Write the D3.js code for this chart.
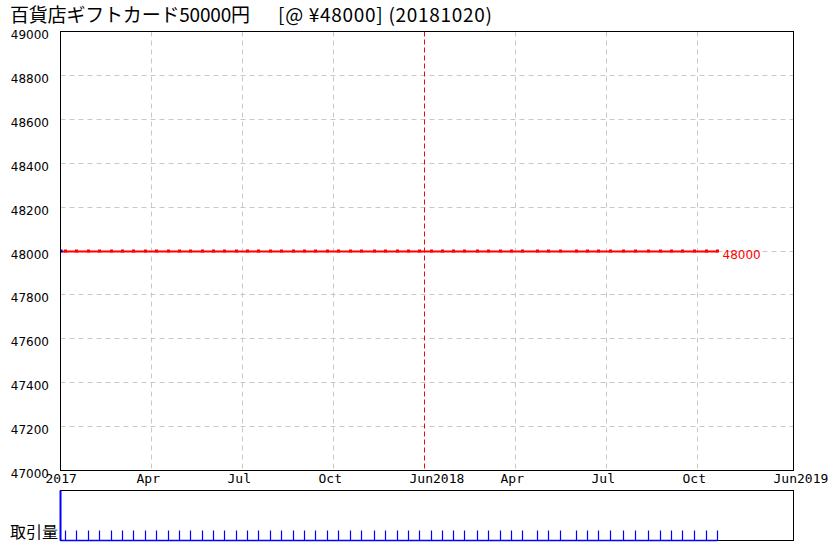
<!DOCTYPE html>
<html><head><meta charset="utf-8">
<script src="https://cdn.jsdelivr.net/npm/d3@7/dist/d3.min.js"></script>
<style>body{margin:0;background:#fff}svg{display:block}</style>
</head><body>
<svg id="c" width="829" height="551"></svg>
<script>
const titleMain = "百貨店ギフトカード50000円";
const titleSub = "[@ ¥48000] (20181020)";
const dates = ["2017-01-01","2017-01-06","2017-01-17","2017-01-29","2017-02-09","2017-02-21","2017-03-04","2017-03-15","2017-03-27","2017-04-07","2017-04-19","2017-04-30","2017-05-11","2017-05-23","2017-06-03","2017-06-14","2017-06-26","2017-07-07","2017-07-18","2017-07-30","2017-08-10","2017-08-22","2017-09-02","2017-09-13","2017-09-25","2017-10-06","2017-10-18","2017-10-29","2017-11-11","2017-11-22","2017-12-04","2017-12-15","2017-12-26","2018-01-07","2018-01-18","2018-01-29","2018-02-09","2018-02-22","2018-03-05","2018-03-17","2018-03-28","2018-04-08","2018-04-23","2018-05-04","2018-05-16","2018-06-01","2018-06-12","2018-06-23","2018-07-05","2018-07-18","2018-07-30","2018-08-12","2018-08-24","2018-09-04","2018-09-15","2018-09-27","2018-10-09","2018-10-20"];
const prices = dates.map(() => 48000);
const volumes = [5].concat(dates.slice(1).map(() => 1));
const xTickDates = ["2017-01-01","2017-04-02","2017-07-02","2017-10-01","2017-12-31","2018-04-01","2018-07-01","2018-09-30","2018-12-30"];
const xTickLabels = ["2017","Apr","Jul","Oct","Jun2018","Apr","Jul","Oct","Jun2019"];
const yearMarkDate = "2017-12-31";
const yTicks = [47000,47200,47400,47600,47800,48000,48200,48400,48600,48800,49000];
const yDomain = [47000, 49000];
const volLabel = "取引量";

const svg = d3.select("#c");
const parse = d3.utcParse("%Y-%m-%d");
const t0 = parse("2017-01-01");
const DAY = 86400000;
const L = 60.5, R = 793.5, T = 31.5, B = 470.5;
const VT = 490.5, VB = 540.5;
const x = d3.scaleUtc().domain([t0, new Date(+t0 + 733*DAY)]).range([L, R]);
const y = d3.scaleLinear().domain(yDomain).range([B, T]);
const yv = d3.scaleLinear().domain([0, d3.max(volumes)]).range([VB, VT]);
const px = v => Math.round(v - 0.5) + 0.5;

// title
const tt = svg.append("text").attr("y", 22).attr("font-family", "'Noto Sans CJK JP', sans-serif").attr("font-size", 19).attr("fill", "#000");
tt.append("tspan").attr("x", 10).attr("textLength", 240).text(titleMain);
tt.append("tspan").attr("x", 278).attr("textLength", 214).text(titleSub);

// gridlines horizontal
svg.append("g").selectAll("line").data(yTicks.slice(1, -1)).join("line")
  .attr("x1", L).attr("x2", R).attr("y1", d => px(y(d))).attr("y2", d => px(y(d)))
  .attr("stroke", "#c8c8c8").attr("stroke-dasharray", "5,4");
// gridlines vertical
const xt = xTickDates.map(parse);
const ym = parse(yearMarkDate);
svg.append("g").selectAll("line").data(xt.slice(1, -1).filter(d => +d !== +ym)).join("line")
  .attr("x1", d => px(x(d))).attr("x2", d => px(x(d)))
  .attr("y1", T).attr("y2", B)
  .attr("stroke", "#c8c8c8").attr("stroke-dasharray", "5,4");
svg.append("line")
  .attr("x1", px(x(ym))).attr("x2", px(x(ym))).attr("y1", T).attr("y2", B)
  .style("stroke", "#ff0000").style("stroke-dasharray", "5,3");

// y labels
svg.append("g").selectAll("text").data(yTicks).join("text")
  .attr("x", 49).attr("y", d => y(d) + 7.5).attr("text-anchor", "end")
  .attr("font-family", "'DejaVu Sans', sans-serif").attr("font-size", 12).attr("fill", "#000")
  .text(d => d);

// x labels
svg.append("g").selectAll("text").data(xt).join("text")
  .attr("x", d => x(d) - 15).attr("y", 483)
  .attr("font-family", "'DejaVu Sans Mono', monospace").attr("font-size", 13).attr("fill", "#000")
  .text((d, i) => xTickLabels[i]);

// price line
const pts = dates.map((d, i) => ({ d: parse(d), p: prices[i], v: volumes[i] }));
svg.append("path").datum(pts)
  .attr("d", d3.line().x(d => x(d.d)).y(d => px(y(d.p))))
  .attr("fill", "none").attr("stroke", "#ff0000").attr("stroke-width", 2);
svg.append("g").selectAll("rect").data(pts.slice(1)).join("rect")
  .attr("x", d => x(d.d) - 1.5).attr("y", d => Math.round(y(d.p)) - 1.5)
  .attr("width", 3).attr("height", 3).attr("fill", "#ff0000");
svg.append("rect").attr("x", x(pts[0].d)).attr("y", Math.round(y(pts[0].p)) - 1.5).attr("width", 2).attr("height", 3).attr("fill", "#0000ff");
const last = pts[pts.length - 1];
svg.append("text").attr("x", x(last.d) + 5).attr("y", y(last.p) + 7.5)
  .attr("font-family", "'DejaVu Sans', sans-serif").attr("font-size", 12).attr("fill", "#ff0000")
  .text(last.p);

// main frame
svg.append("rect").attr("x", L).attr("y", T).attr("width", R - L).attr("height", B - T)
  .attr("fill", "none").attr("stroke", "#000");

// volume panel
svg.append("rect").attr("x", L).attr("y", VT).attr("width", R - L).attr("height", VB - VT)
  .attr("fill", "none").attr("stroke", "#000");
svg.append("line").attr("x1", L).attr("x2", x(last.d)).attr("y1", VB).attr("y2", VB)
  .attr("stroke", "#0000ff").attr("stroke-width", 1.5);
svg.append("g").selectAll("line").data(pts).join("line")
  .attr("x1", d => px(x(d.d))).attr("x2", d => px(x(d.d)))
  .attr("y1", VB).attr("y2", d => yv(d.v))
  .attr("stroke", "#0000ff").attr("stroke-width", (d, i) => i === 0 ? 2 : 1.2);
svg.append("text").attr("x", 10).attr("y", 538)
  .attr("font-family", "'Noto Sans CJK JP', sans-serif").attr("font-size", 16).attr("fill", "#000")
  .text(volLabel);
</script>
</body></html>
